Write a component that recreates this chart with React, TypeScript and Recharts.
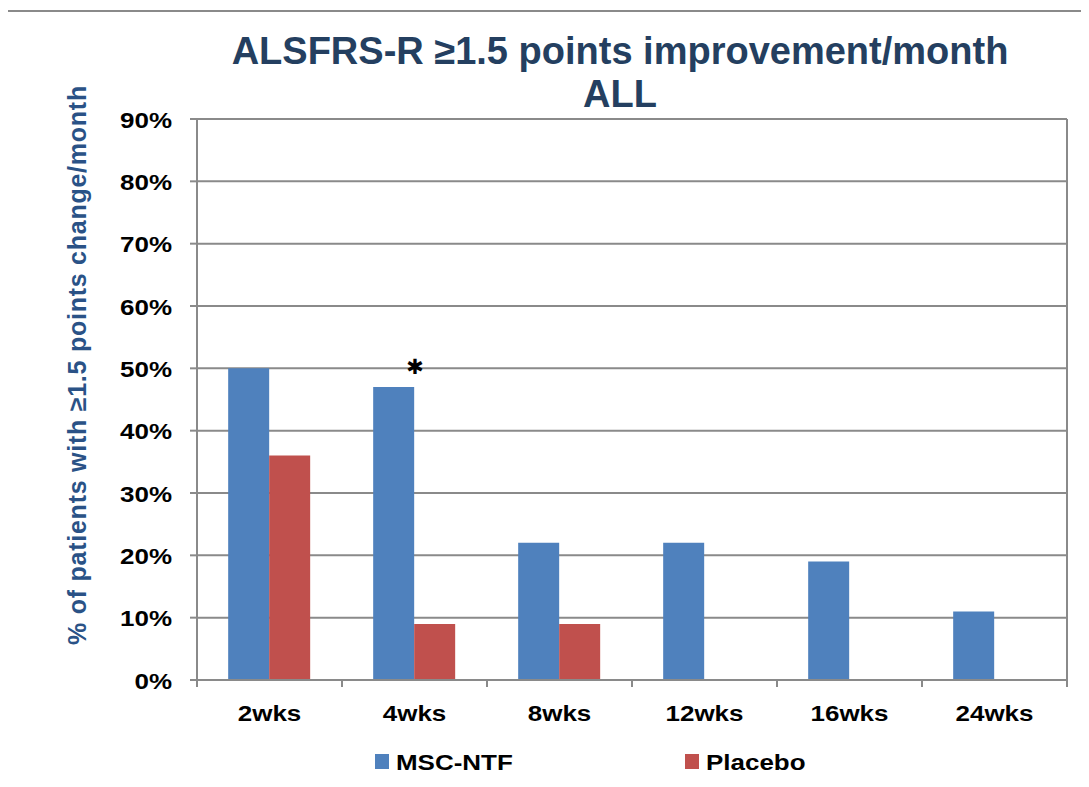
import { BarChart, Bar, XAxis, YAxis, CartesianGrid, LabelList } from 'recharts'

const categories = ['2wks', '4wks', '8wks', '12wks', '16wks', '24wks']
const mscNtf = [50, 47, 22, 22, 19, 11]
const placebo = [36, 9, 9, 0, 0, 0]
const marks = ['', '✱', '', '', '', '']
const yTicks = [0, 10, 20, 30, 40, 50, 60, 70, 80, 90]

const series = [
  { key: 'msc', name: 'MSC-NTF', color: '#4F81BD' },
  { key: 'placebo', name: 'Placebo', color: '#C0504D' },
]

const data = categories.map((week, i) => ({
  week,
  msc: mscNtf[i],
  placebo: placebo[i],
  mark: marks[i],
}))

const FONT = '"Liberation Sans", Arial, sans-serif'
const GRAY = '#8a8a8a'
const STRETCH = 1.18

function XTick({ x, y, payload, index }: any) {
  const half = payload?.offset ?? 0
  const last = index === categories.length - 1
  return (
    <g>
      <line x1={x - half} x2={x - half} y1={y} y2={y + 7} stroke={GRAY} strokeWidth={2} />
      {last && <line x1={x + half} x2={x + half} y1={y} y2={y + 7} stroke={GRAY} strokeWidth={2} />}
      <g transform={`translate(${x},${y + 41}) scale(${STRETCH},1)`}>
        <text textAnchor="middle" fontFamily={FONT} fontSize={22} fontWeight="bold" fill="#000">
          {payload.value}
        </text>
      </g>
    </g>
  )
}

function YTick({ x, y, payload }: any) {
  return (
    <g transform={`translate(${x},${y}) scale(${STRETCH},1)`}>
      <text textAnchor="end" dy={8.5} fontFamily={FONT} fontSize={22} fontWeight="bold" fill="#000">
        {payload.value}%
      </text>
    </g>
  )
}

// significance marker above the MSC-NTF bar
function StarLabel({ x, y, width, value }: any) {
  if (!value) return null
  return (
    <text
      x={x + width + 1}
      y={y - 20}
      textAnchor="middle"
      dominantBaseline="central"
      fontFamily="DejaVu Sans"
      fontWeight="bold"
      fontSize={21}
      fill="#000"
    >
      {value}
    </text>
  )
}

export default function App() {
  return (
    <div style={{ position: 'relative', width: 1089, height: 787, margin: -8, overflow: 'hidden', background: '#fff' }}>
      <div
        style={{
          position: 'absolute',
          left: 6,
          top: 10,
          width: 1200,
          height: 900,
          borderTop: `2px solid ${GRAY}`,
          borderLeft: `2px solid ${GRAY}`,
        }}
      />
      <div
        style={{
          position: 'absolute',
          left: 0,
          top: 30,
          width: 1240,
          textAlign: 'center',
          fontFamily: FONT,
          fontWeight: 'bold',
          fontSize: 38,
          lineHeight: '43px',
          color: '#243F60',
        }}
      >
        ALSFRS-R ≥1.5 points improvement/month
        <br />
        ALL
      </div>
      <div
        style={{
          position: 'absolute',
          left: 77 - 320,
          top: 365 - 15,
          width: 640,
          height: 30,
          lineHeight: '30px',
          textAlign: 'center',
          transform: 'rotate(-90deg)',
          fontFamily: FONT,
          fontWeight: 'bold',
          fontSize: 25,
          letterSpacing: 0.75,
          color: '#2A5286',
          whiteSpace: 'nowrap',
        }}
      >
        % of patients with ≥1.5 points change/month
      </div>
      <div style={{ position: 'absolute', left: 0, top: 0 }}>
        <BarChart
          width={1089}
          height={787}
          data={data}
          margin={{ top: 119, right: 21, left: 0, bottom: 47 }}
          barCategoryGap="21.5%"
          barGap={0}
        >
          <CartesianGrid vertical={false} stroke={GRAY} strokeWidth={2} />
          <XAxis
            dataKey="week"
            height={60}
            interval={0}
            tickSize={0}
            tickMargin={0}
            tickLine={false}
            axisLine={{ stroke: GRAY, strokeWidth: 2 }}
            tick={<XTick />}
          />
          <YAxis
            width={197}
            domain={[0, 90]}
            ticks={yTicks}
            interval={0}
            tickSize={7}
            tickMargin={18}
            tickLine={{ stroke: GRAY, strokeWidth: 2 }}
            axisLine={{ stroke: GRAY, strokeWidth: 2 }}
            tick={<YTick />}
          />
          <YAxis
            yAxisId="right"
            orientation="right"
            width={1}
            tick={false}
            tickLine={false}
            axisLine={{ stroke: GRAY, strokeWidth: 2 }}
          />
          {series.map((s) => (
            <Bar key={s.key} dataKey={s.key} name={s.name} fill={s.color} isAnimationActive={false}>
              {s.key === 'msc' && <LabelList dataKey="mark" content={<StarLabel />} />}
            </Bar>
          ))}
        </BarChart>
      </div>
      <div style={{ position: 'absolute', left: 375, top: 751, display: 'flex' }}>
        {series.map((s) => (
          <div key={s.key} style={{ position: 'relative', width: 310, height: 24 }}>
            <div style={{ position: 'absolute', left: 0, top: 3, width: 14, height: 15, background: s.color }} />
            <div
              style={{
                position: 'absolute',
                left: 21,
                top: 0,
                lineHeight: '24px',
                fontFamily: FONT,
                fontWeight: 'bold',
                fontSize: 22,
                color: '#000',
                whiteSpace: 'nowrap',
                transform: `scaleX(${STRETCH})`,
                transformOrigin: 'left center',
              }}
            >
              {s.name}
            </div>
          </div>
        ))}
      </div>
    </div>
  )
}
